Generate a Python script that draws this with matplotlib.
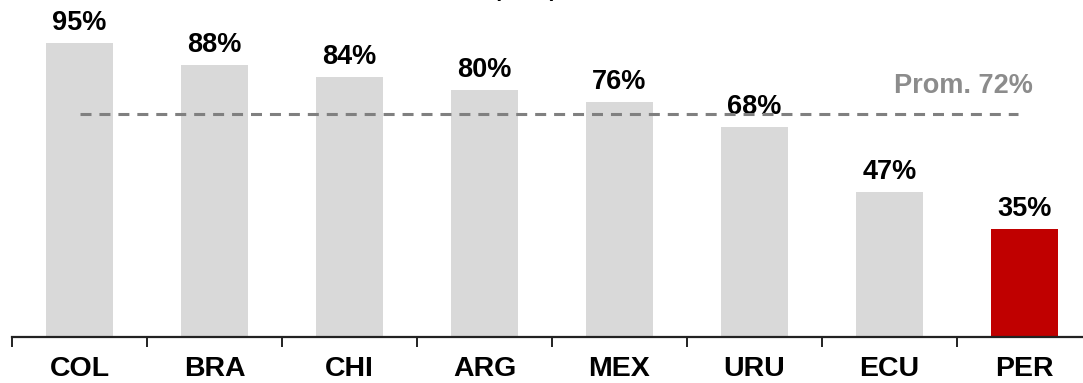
import matplotlib
matplotlib.use("Agg")
import matplotlib.pyplot as plt

countries = ["COL", "BRA", "CHI", "ARG", "MEX", "URU", "ECU", "PER"]
values = [95, 88, 84, 80, 76, 68, 47, 35]
average = 72
highlight = "PER"

plt.rcParams["font.family"] = ["Liberation Sans", "DejaVu Sans"]
plt.rcParams["font.weight"] = "bold"

W, H, DPI = 1083, 383, 100
fig = plt.figure(figsize=(W / DPI, H / DPI), dpi=DPI)
ax = fig.add_axes([12 / W, 46 / H, 1080 / W, 337 / H])

x = list(range(len(countries)))
colors = ["#C00000" if c == highlight else "#D9D9D9" for c in countries]
ax.bar(x, values, width=0.5, color=colors, zorder=2)

for xi, v in zip(x, values):
    ax.annotate(f"{v}%", (xi, v), xytext=(0, 5), textcoords="offset points",
                ha="center", va="bottom", fontsize=19.5, fontweight="bold",
                color="black")

ax.plot([0, 6.95], [average, average], color="#808080", lw=2.2,
        dashes=(3.6, 2.6), zorder=3)
ax.text(6.55, average + 5.0, f"Prom. {average}%", ha="center", va="bottom",
        fontsize=19.5, fontweight="bold", color="#8C8C8C")

ax.set_xlim(-0.5, 7.5)
ax.set_ylim(0, 109)
ax.set_yticks([])
for s in ("top", "right", "left"):
    ax.spines[s].set_visible(False)
ax.spines["bottom"].set_linewidth(1.6)
ax.spines["bottom"].set_color("#222222")

ax.set_xticks([i - 0.5 for i in x])
ax.set_xticklabels([])
ax.tick_params(axis="x", length=7, width=1.4, color="#222222")
for xi, c in zip(x, countries):
    ax.text(xi, -6.0, c, ha="center", va="top", fontsize=20.5,
            fontweight="bold", color="black", clip_on=False)

# subtitle sitting just above the top edge
fig.text(494 / W, 1 + 2.5 / H, "(en %)", ha="left", va="baseline",
         fontsize=15, fontweight="bold", color="black")

fig.savefig("out.png", dpi=DPI)
